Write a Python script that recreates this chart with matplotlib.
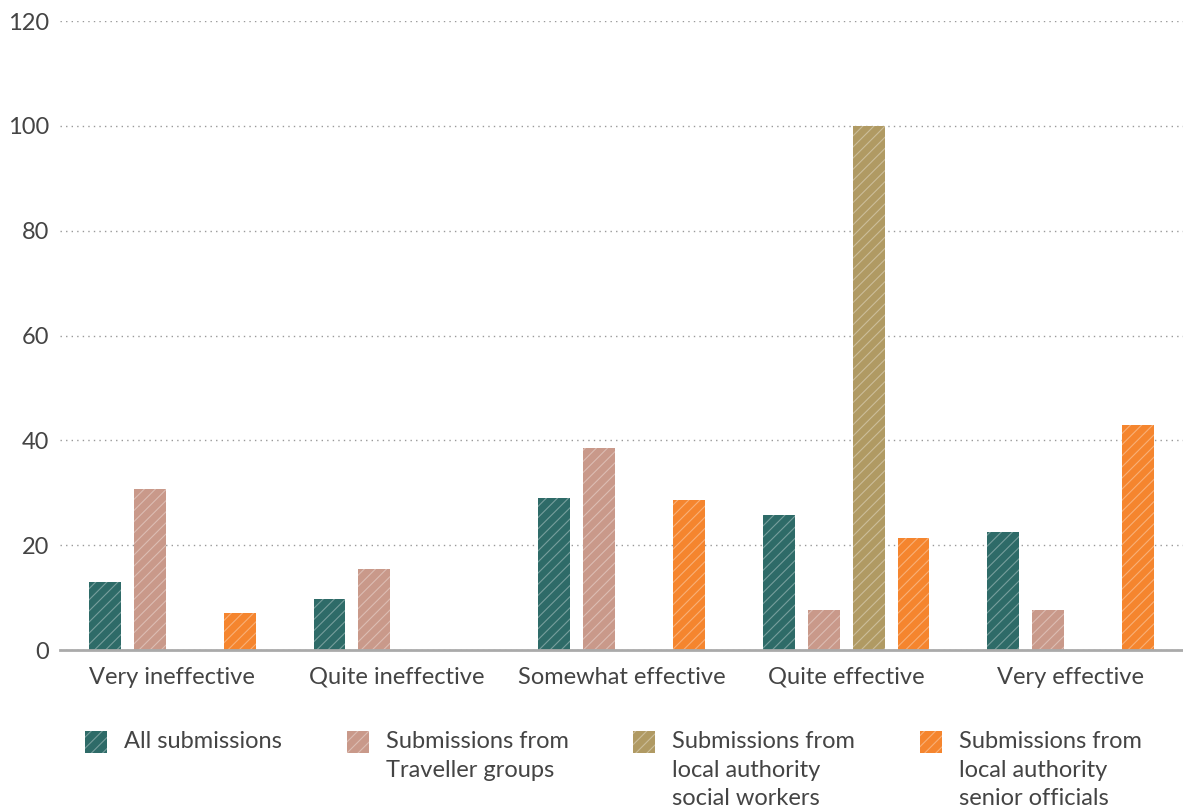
import matplotlib.pyplot as plt
from matplotlib.patches import Rectangle
import numpy as np

plt.rcParams['font.family'] = ['Lato', 'DejaVu Sans']
plt.rcParams['hatch.linewidth'] = 0.8

categories = ['Very ineffective', 'Quite ineffective', 'Somewhat effective',
              'Quite effective', 'Very effective']
series_names = ['All submissions',
                'Submissions from\nTraveller groups',
                'Submissions from\nlocal authority\nsocial workers',
                'Submissions from\nlocal authority\nsenior officials']
all_subs = [12.9, 9.7, 29.0, 25.8, 22.6]
traveller = [30.8, 15.4, 38.5, 7.7, 7.7]
social_workers = [0, 0, 0, 100, 0]
senior_officials = [7.1, 0, 28.6, 21.4, 42.9]
colors = ['#2e6b68', '#c9998a', '#b09a63', '#f5852e']
yticks = [0, 20, 40, 60, 80, 100, 120]

text_col = '#444444'
fig = plt.figure(figsize=(11.83, 8.10), dpi=100)
ax = fig.add_axes([0.0507, 0.1975, 0.9493, 0.7765])

x = np.arange(len(categories))
step = 0.2
for i, vals in enumerate([all_subs, traveller, social_workers, senior_officials]):
    ax.bar(x + (i - 1.5) * step, vals, width=0.142, color=colors[i],
           edgecolor=(1, 1, 1, 0.35), linewidth=0, hatch='///', zorder=3)

ax.set_xlim(-0.5, 4.5)
ax.set_ylim(0, 120)
ax.set_yticks(yticks)
ax.set_xticks(x)
ax.set_xticklabels(categories)
ax.tick_params(axis='both', length=0, labelsize=17, labelcolor=text_col)
ax.tick_params(axis='y', pad=8)
ax.tick_params(axis='x', pad=12)
ax.grid(axis='y', linestyle=(0, (1, 3)), color='#999999', linewidth=1, zorder=0)
for s in ['left', 'right', 'top']:
    ax.spines[s].set_visible(False)
ax.spines['bottom'].set_color('#aaaaaa')
ax.spines['bottom'].set_linewidth(2)
ax.spines['bottom'].set_zorder(4)

# legend
leg_x = [85, 347, 633, 920]
for i, name in enumerate(series_names):
    fx = leg_x[i] / 1183
    fig.add_artist(Rectangle((fx, 1 - 753 / 810), 22 / 1183, 22 / 810,
                             transform=fig.transFigure, facecolor=colors[i],
                             edgecolor=(1, 1, 1, 0.35), linewidth=0, hatch='///'))
    fig.text(fx + 39 / 1183, 1 - 731 / 810, name, fontsize=17, color=text_col,
             va='top', ha='left', linespacing=1.45)

fig.savefig('out.png', dpi=100)
